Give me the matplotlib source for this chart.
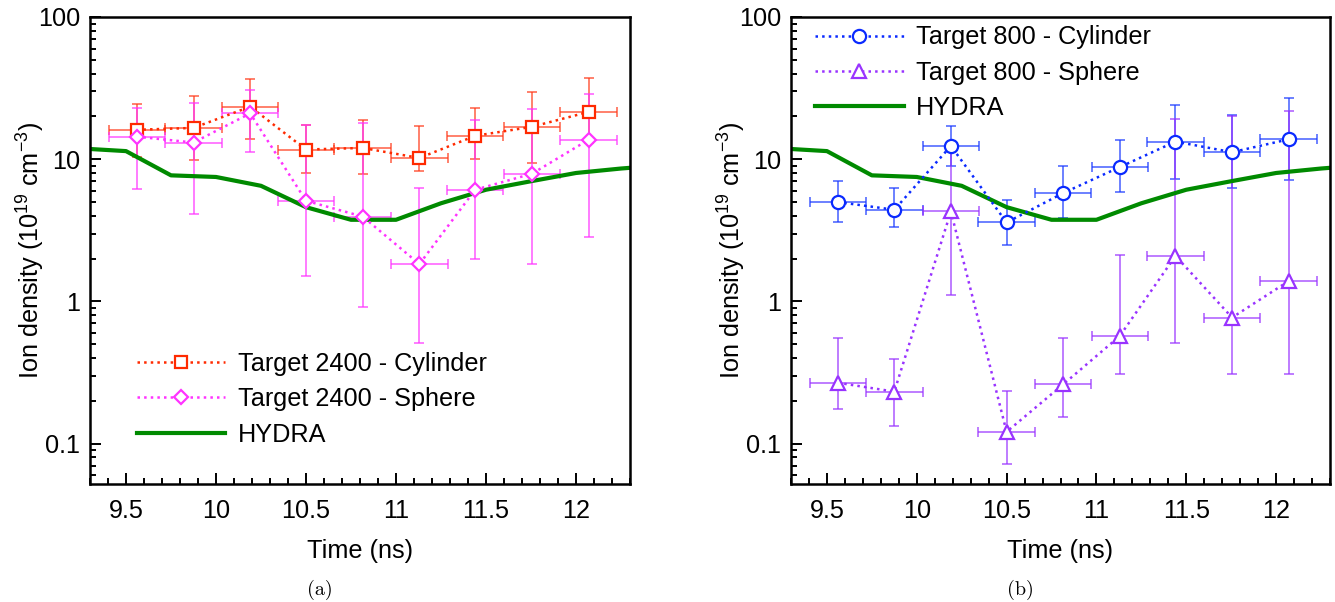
import matplotlib
matplotlib.use("Agg")
import matplotlib.pyplot as plt
import numpy as np
from matplotlib.ticker import LogLocator, FixedLocator, MultipleLocator, NullFormatter

plt.rcParams['font.family'] = ['Liberation Sans', 'DejaVu Sans']
plt.rcParams['mathtext.default'] = 'regular'

# ---- data ----
time = [9.56, 9.875, 10.19, 10.5, 10.815, 11.13, 11.44, 11.755, 12.07]
time_err = [0.157] * 9

cyl2400 = [16.1, 16.6, 23.4, 11.7, 12.0, 10.2, 14.6, 16.9, 21.5]
cyl2400_lo = [10.4, 9.8, 13.9, 8.0, 7.9, 8.2, 10.0, 9.4, 13.0]
cyl2400_hi = [24.3, 27.9, 36.7, 17.5, 18.9, 17.0, 22.8, 29.7, 37.3]

sph2400 = [14.4, 13.1, 21.0, 5.1, 3.95, 1.83, 6.1, 7.9, 13.7]
sph2400_lo = [6.2, 4.1, 11.3, 1.51, 0.91, 0.51, 2.0, 1.83, 2.85]
sph2400_hi = [22.8, 24.9, 30.7, 17.5, 18.0, 6.3, 19.0, 22.4, 28.6]

cyl800 = [5.0, 4.41, 12.4, 3.59, 5.78, 8.8, 13.3, 11.2, 13.8]
cyl800_lo = [3.63, 3.35, 9.0, 2.51, 3.89, 5.84, 7.25, 6.3, 7.13]
cyl800_hi = [7.0, 6.3, 17.0, 5.13, 8.9, 13.7, 24.1, 20.5, 27.0]

sph800 = [0.268, 0.232, 4.29, 0.121, 0.261, 0.571, 2.09, 0.77, 1.39]
sph800_lo = [0.174, 0.133, 1.11, 0.072, 0.154, 0.307, 0.508, 0.307, 0.307]
sph800_hi = [0.556, 0.396, 12.0, 0.234, 0.556, 2.11, 19.1, 20.0, 21.7]

hydra_t = [9.25, 9.5, 9.75, 10.0, 10.25, 10.5, 10.75, 11.0, 11.25, 11.5, 11.75, 12.0, 12.25, 12.5]
hydra_n = [11.9, 11.4, 7.7, 7.5, 6.5, 4.6, 3.75, 3.75, 4.9, 6.1, 7.0, 8.0, 8.6, 9.1]

x_ticks = [9.5, 10, 10.5, 11, 11.5, 12]
x_ticklabels = ['9.5', '10', '10.5', '11', '11.5', '12']
y_ticks = [0.1, 1, 10, 100]
y_ticklabels = ['0.1', '1', '10', '100']

FS = 18.2
W, H = 1335, 602
fig = plt.figure(figsize=(W / 100, H / 100), dpi=100)

ax1 = fig.add_axes([90 / W, (H - 484) / H, 540 / W, 467 / H])
ax2 = fig.add_axes([791 / W, (H - 484) / H, 539 / W, 467 / H])


def draw_series(ax, y, lo, hi, color, ecolor, marker, ms, label):
    yerr = [np.array(y) - np.array(lo), np.array(hi) - np.array(y)]
    ax.errorbar(time, y, xerr=time_err, yerr=yerr, fmt='none', ecolor=ecolor,
                elinewidth=1.2, capsize=3.5, capthick=1.2, alpha=0.75, zorder=2)
    ax.plot(time, y, linestyle=':', color=color, lw=1.8, marker=marker, ms=ms,
            mfc='white', mec=color, mew=1.6, label=label, zorder=3)


def style_axes(ax):
    ax.set_yscale('log')
    ax.set_xlim(9.3, 12.3)
    ax.set_ylim(0.052, 100)
    ax.xaxis.set_major_locator(FixedLocator(x_ticks))
    ax.set_xticklabels(x_ticklabels)
    ax.xaxis.set_minor_locator(MultipleLocator(0.1))
    ax.yaxis.set_major_locator(FixedLocator(y_ticks))
    ax.set_yticklabels(y_ticklabels)
    ax.yaxis.set_minor_locator(LogLocator(base=10, subs=np.arange(2, 10)))
    ax.yaxis.set_minor_formatter(NullFormatter())
    ax.tick_params(which='both', direction='in', top=False, right=False,
                   labelsize=FS, width=1.4)
    ax.tick_params(which='major', length=8)
    ax.tick_params(axis='x', which='major', pad=11)
    ax.tick_params(axis='y', which='major', pad=7)
    ax.tick_params(which='minor', length=4.5)
    for s in ax.spines.values():
        s.set_linewidth(1.8)
    ax.set_xlabel('Time (ns)', fontsize=FS, labelpad=11)
    ax.set_ylabel('Ion density (10$^{19}$ cm$^{-3}$)', fontsize=FS)
    ax.yaxis.set_label_coords(-0.08, 0.5)


leg_kw = dict(frameon=False, fontsize=FS, borderpad=0, borderaxespad=0,
              handlelength=3.5, handletextpad=0.5, labelspacing=0.45)

# left panel
draw_series(ax1, cyl2400, cyl2400_lo, cyl2400_hi, '#ff2a00', '#ff3a1a', 's', 9,
            'Target 2400 - Cylinder')
draw_series(ax1, sph2400, sph2400_lo, sph2400_hi, '#ff33ff', '#ff33ff', 'D', 7.5,
            'Target 2400 - Sphere')
ax1.plot(hydra_t, hydra_n, color='#008a00', lw=3, label='HYDRA', zorder=2.5)
style_axes(ax1)
ax1.legend(loc='upper left', bbox_to_anchor=(0.087, 0.283), **leg_kw)

# right panel
draw_series(ax2, cyl800, cyl800_lo, cyl800_hi, '#0a2aff', '#1a3aff', 'o', 9.5,
            'Target 800 - Cylinder')
draw_series(ax2, sph800, sph800_lo, sph800_hi, '#9933ff', '#9933ff', '^', 9.5,
            'Target 800 - Sphere')
ax2.plot(hydra_t, hydra_n, color='#008a00', lw=3, label='HYDRA', zorder=2.5)
style_axes(ax2)
ax2.legend(loc='upper left', bbox_to_anchor=(0.045, 0.982), **leg_kw)

fig.text(320 / W, 1 - 590 / H, '(a)', ha='center', va='center', fontsize=14.5,
         family='cmr10')
fig.text(1020 / W, 1 - 590 / H, '(b)', ha='center', va='center', fontsize=14.5,
         family='cmr10')

fig.savefig('out.png', dpi=100)
